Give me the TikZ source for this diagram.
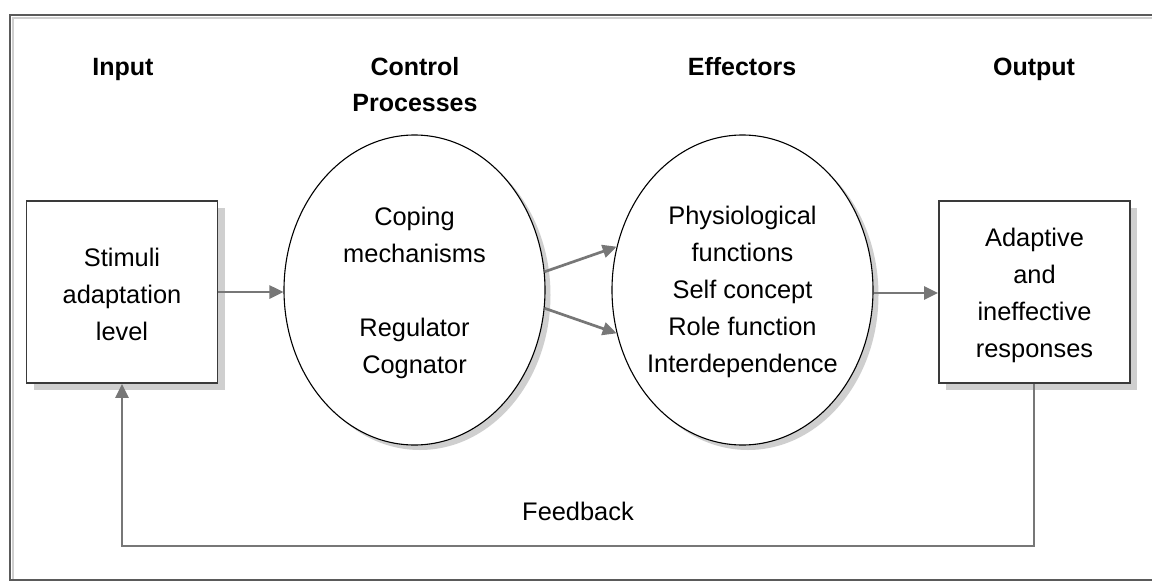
\documentclass[tikz,border=0pt]{standalone}
\usepackage{fontspec}
\setmainfont{Liberation Sans}
\usetikzlibrary{shapes.geometric,arrows.meta}
\definecolor{framegray}{HTML}{5A5A5A}
\definecolor{boxline}{HTML}{3A3A3A}
\definecolor{arrowgray}{HTML}{777777}
\definecolor{shadowgray}{HTML}{CFCFCF}
\tikzset{
  boxnode/.style={draw=boxline, line width=1.8pt, fill=white, minimum width=191pt, minimum height=182pt, inner sep=0pt},
  boxshadow/.style={fill=shadowgray, draw=none, minimum width=191pt, minimum height=182pt, inner sep=0pt},
  ellnode/.style={ellipse, draw=black, line width=1.1pt, fill=white, minimum width=261pt, minimum height=310pt, inner sep=0pt},
  ellshadow/.style={ellipse, fill=shadowgray, draw=none, minimum width=261pt, minimum height=310pt, inner sep=0pt},
  bodytext/.style={align=center, font=\fontsize{25.4pt}{37pt}\selectfont, inner sep=0pt},
  headtext/.style={align=center, font=\fontsize{25pt}{36pt}\selectfont\bfseries, inner sep=0pt, anchor=base},
  arr/.style={draw=arrowgray, line width=2.7pt, -{Triangle[length=14pt,width=13pt]}},
  fbline/.style={draw=arrowgray, line width=2.7pt}
}
\begin{document}
\begin{tikzpicture}[x=1pt,y=-1pt]
\useasboundingbox (0,0) rectangle (1152,581);
\clip (0,0) rectangle (1152,581);
% outer frame
\draw[shadowgray, line width=2pt] (1160,17.5) -- (12.5,17.5) -- (12.5,582.5);
\draw[framegray, line width=1.8pt] (1160,15) -- (10,15) -- (10,580) -- (1160,580);
% headers
\node[headtext] (hin) at (123,75) {Input};
\node[headtext] (hcp) at (415,111) {Control\\Processes};
\node[headtext] (hef) at (742,75) {Effectors};
\node[headtext] (hout) at (1034,75) {Output};
% shadows
\node[boxshadow] at (129,299) {};
\node[boxshadow] at (1041.5,299) {};
\node[ellshadow] at (420,295) {};
\node[ellshadow] at (748,295) {};
% main shapes
\node[boxnode] (lb) at (122,292) {};
\node[boxnode] (rb) at (1034.5,292) {};
\node[ellnode] (e1) at (414.5,290) {};
\node[ellnode] (e2) at (742.5,290) {};
% texts
\node[bodytext] (tlb) at (122,294) {Stimuli\\adaptation\\level};
\node[bodytext] (te1) at (414.5,293) {Coping\\mechanisms\\[37pt]Regulator\\Cognator};
\node[bodytext] (te2) at (742.5,292) {Physiological\\functions\\Self concept\\Role function\\Interdependence};
\node[bodytext] (trb) at (1034.5,295) {Adaptive\\and\\ineffective\\responses};
\node[bodytext] (tfb) at (578,511) {Feedback};
% connectors
\draw[arr] (lb.east |- 0,292) -- (e1.west |- 0,292);
\draw[arr] (e1.8) -- (e2.161);
\draw[arr] (e1.-8) -- (e2.-161);
\draw[arr] (e2.east |- 0,293) -- (rb.west |- 0,293);
\coordinate (fbR) at (1034,546);
\coordinate (fbL) at (122,546);
\draw[fbline] (fbR |- rb.south) -- (fbR) -- (fbL) -- (fbL |- 0,400);
\draw[arr] (fbL |- 0,400) -- (fbL |- lb.south);
\end{tikzpicture}
\end{document}
